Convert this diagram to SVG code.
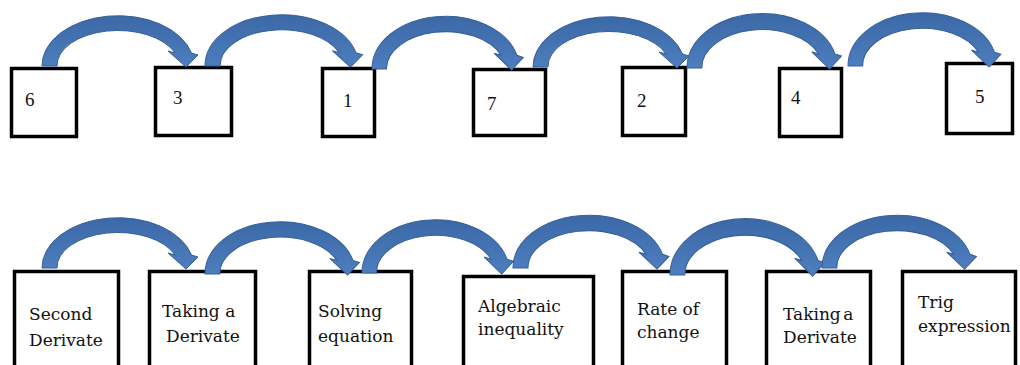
<svg xmlns="http://www.w3.org/2000/svg" width="1020" height="365" viewBox="0 0 1020 365">
<style>
.box{fill:#fff;stroke:#000;stroke-width:3.5}
.num{font-family:"Liberation Serif",serif;font-size:19px;fill:#111}
.lbl{font-family:"DejaVu Serif",serif;font-size:17px;fill:#111}
.arr{fill:url(#g);stroke:#36609a;stroke-width:1}
</style>
<defs>
<linearGradient id="g" x1="0" y1="0" x2="0" y2="1">
<stop offset="0" stop-color="#3c68a6"/>
<stop offset="1" stop-color="#4d7ebe"/>
</linearGradient>
<path id="ca" d="M0,0 A76 50 0 0 1 149.5,-13 L156,-11 L144,1 L126,-15 L133,-13 A61 35 0 0 0 15,0 Z"/>
</defs>
<g id="n6"><rect class="box" x="11.5" y="68.5" width="65" height="68"/><text class="num" x="25" y="106">6</text></g>
<g id="n3"><rect class="box" x="155.5" y="67.5" width="76" height="68"/><text class="num" x="173" y="104">3</text></g>
<g id="n1"><rect class="box" x="322.5" y="68.5" width="52" height="68"/><text class="num" x="343" y="107">1</text></g>
<g id="n7"><rect class="box" x="473.5" y="69.5" width="72" height="66"/><text class="num" x="487" y="110">7</text></g>
<g id="n2"><rect class="box" x="622.5" y="67.5" width="63" height="68"/><text class="num" x="637" y="107">2</text></g>
<g id="n4"><rect class="box" x="779.5" y="68.5" width="62" height="68"/><text class="num" x="791" y="104">4</text></g>
<g id="n5"><rect class="box" x="946.5" y="63.5" width="66" height="70"/><text class="num" x="975" y="103">5</text></g>
<g id="b1"><rect class="box" x="14.5" y="271.5" width="104" height="120"/><text class="lbl" x="29" y="320">Second</text><text class="lbl" x="29" y="346">Derivate</text></g>
<g id="b2"><rect class="box" x="149.5" y="271.5" width="106" height="120"/><text class="lbl" x="162" y="317">Taking a</text><text class="lbl" x="166" y="342">Derivate</text></g>
<g id="b3"><rect class="box" x="309.5" y="271.5" width="102" height="120"/><text class="lbl" x="318" y="317">Solving</text><text class="lbl" x="318" y="342">equation</text></g>
<g id="b4"><rect class="box" x="463.5" y="276.5" width="130" height="120"/><text class="lbl" x="478" y="312">Algebraic</text><text class="lbl" x="478" y="335">inequality</text></g>
<g id="b5"><rect class="box" x="622.5" y="271.5" width="104" height="120"/><text class="lbl" x="637" y="315">Rate of</text><text class="lbl" x="637" y="338">change</text></g>
<g id="b6"><rect class="box" x="766.5" y="271.5" width="104" height="120"/><text class="lbl" x="783" y="320" word-spacing="-3">Taking a</text><text class="lbl" x="783" y="343">Derivate</text></g>
<g id="b7"><rect class="box" x="902.5" y="271.5" width="113" height="120"/><text class="lbl" x="918" y="308">Trig</text><text class="lbl" x="918" y="332">expression</text></g>
<g id="connectors">
<use href="#ca" class="arr" transform="translate(42,66)"/>
<use href="#ca" class="arr" transform="translate(205,66) scale(1.01,1.02)"/>
<use href="#ca" class="arr" transform="translate(372,69) scale(0.97,1.05)"/>
<use href="#ca" class="arr" transform="translate(533,67)"/>
<use href="#ca" class="arr" transform="translate(687,68) scale(0.99,1.08)"/>
<use href="#ca" class="arr" transform="translate(848,66) scale(0.98,1.06)"/>
<use href="#ca" class="arr" transform="translate(42,268)"/>
<use href="#ca" class="arr" transform="translate(205,274) scale(0.99,1.04)"/>
<use href="#ca" class="arr" transform="translate(362,273) scale(0.97,1.06)"/>
<use href="#ca" class="arr" transform="translate(513,268) scale(1,1.05)"/>
<use href="#ca" class="arr" transform="translate(670,275) scale(0.99,1.12)"/>
<use href="#ca" class="arr" transform="translate(822,268) scale(0.99,1.05)"/>
</g>
</svg>
